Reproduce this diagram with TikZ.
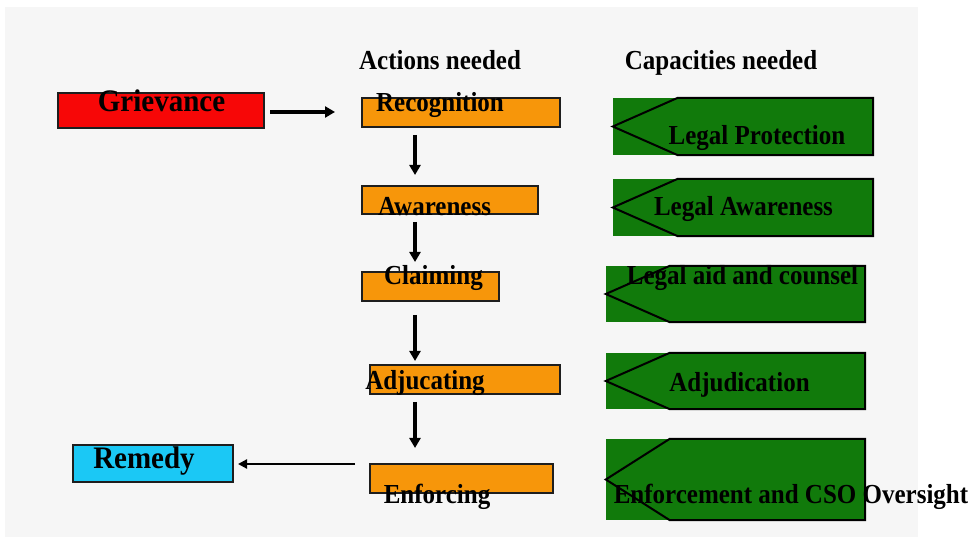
\documentclass[tikz,border=0pt]{standalone}
\usepackage{fontspec}
\setmainfont{Liberation Serif}
\usetikzlibrary{arrows.meta,calc}
\definecolor{bggrey}{HTML}{F6F6F6}
\definecolor{gred}{HTML}{F70707}
\definecolor{aorange}{HTML}{F7960A}
\definecolor{cgreen}{HTML}{117A0B}
\definecolor{rcyan}{HTML}{1BC8F5}
\definecolor{edge}{HTML}{1E1E1E}
\tikzset{
  boxbase/.style={draw=edge,line width=2pt,inner sep=0pt,rectangle},
  obox/.style={boxbase,fill=aorange},
  gfill/.style={fill=cgreen,inner sep=0pt,rectangle,draw=none},
  goutline/.style={draw=black,line width=2pt,line join=miter},
  lbl/.style={font=\fontsize{25}{30}\selectfont\bfseries,inner sep=0pt,anchor=base,text=black,yscale=1.1,transform shape},
  biglbl/.style={font=\fontsize{29}{34}\selectfont\bfseries,inner sep=0pt,anchor=base,text=black,yscale=1.08,transform shape},
  flowarrow/.style={line width=3.2pt,-{Triangle[length=10pt,width=11pt]}},
  backarrow/.style={line width=2.2pt,-{Triangle[length=9pt,width=9pt]}}
}
\begin{document}
\begin{tikzpicture}[x=1pt,y=-1pt]
\useasboundingbox (0,0) rectangle (970,537);
\fill[white] (0,0) rectangle (970,537);
\fill[bggrey] (5,7) rectangle (918,537);

% headers
\node[lbl] (hact) at (440,70) {Actions needed};
\node[lbl] (hcap) at (721,70) {Capacities needed};

% left boxes
\node[boxbase,fill=gred,minimum width=206pt,minimum height=35pt] (griev) at (161,110.5) {};
\node[biglbl] (grievt) at (161.5,112) {Grievance};
\node[boxbase,fill=rcyan,minimum width=160pt,minimum height=37pt] (rem) at (153,463.5) {};
\node[biglbl] (remt) at (144,468) {Remedy};

% action boxes
\node[obox,minimum width=198pt,minimum height=29pt] (rec) at (461,112.5) {};
\node[obox,minimum width=176pt,minimum height=28pt] (awa) at (450,200) {};
\node[obox,minimum width=137pt,minimum height=29pt] (cla) at (430.5,286.5) {};
\node[obox,minimum width=190pt,minimum height=29pt] (adj) at (465,379.5) {};
\node[obox,minimum width=183pt,minimum height=29pt] (enf) at (461.5,478.5) {};
\node[lbl] (rect) at (440,112) {Recognition};
\node[lbl] (awat) at (434.5,216) {Awareness};
\node[lbl] (clat) at (433.5,285) {Claiming};
\node[lbl] (adjt) at (425,390) {Adjucating};
\node[lbl] (enft) at (437,503) {Enforcing};

% capacity shapes
\node[gfill,minimum width=260pt,minimum height=57pt] (g1) at (743,126.5) {};
\node[gfill,minimum width=260pt,minimum height=57pt] (g2) at (743,207.5) {};
\node[gfill,minimum width=259pt,minimum height=56pt] (g3) at (735.5,294) {};
\node[gfill,minimum width=259pt,minimum height=56pt] (g4) at (735.5,381) {};
\node[gfill,minimum width=259pt,minimum height=81pt] (g5) at (735.5,479.5) {};
\foreach \g/\n in {g1/65,g2/65,g3/64,g4/64,g5/64}{
  \draw[goutline] (\g.west) -- ($(\g.north west)+(\n,0)$) -- (\g.north east)
    -- (\g.south east) -- ($(\g.south west)+(\n,0)$) -- cycle;
}
\node[lbl] (g1t) at (757,145) {Legal Protection};
\node[lbl] (g2t) at (743.5,216) {Legal Awareness};
\node[lbl] (g3t) at (742.5,285) {Legal aid and counsel};
\node[lbl] (g4t) at (739.5,392) {Adjudication};
\node[lbl] (g5t) at (791,503) {Enforcement and CSO Oversight};

% connectors
\coordinate (a0s) at (270,112);
\coordinate (a0e) at (335,112);
\coordinate (a1s) at (415,135);
\coordinate (a1e) at (415,175);
\coordinate (a2s) at (415,222);
\coordinate (a2e) at (415,262);
\coordinate (a3s) at (415,315);
\coordinate (a3e) at (415,361);
\coordinate (a4s) at (415,402);
\coordinate (a4e) at (415,448);
\coordinate (a5s) at (355,464);
\coordinate (a5e) at (238,464);
\draw[flowarrow] (a0s) -- (a0e);
\draw[flowarrow] (a1s) -- (a1e);
\draw[flowarrow] (a2s) -- (a2e);
\draw[flowarrow] (a3s) -- (a3e);
\draw[flowarrow] (a4s) -- (a4e);
\draw[backarrow] (a5s) -- (a5e);
\end{tikzpicture}
\end{document}
